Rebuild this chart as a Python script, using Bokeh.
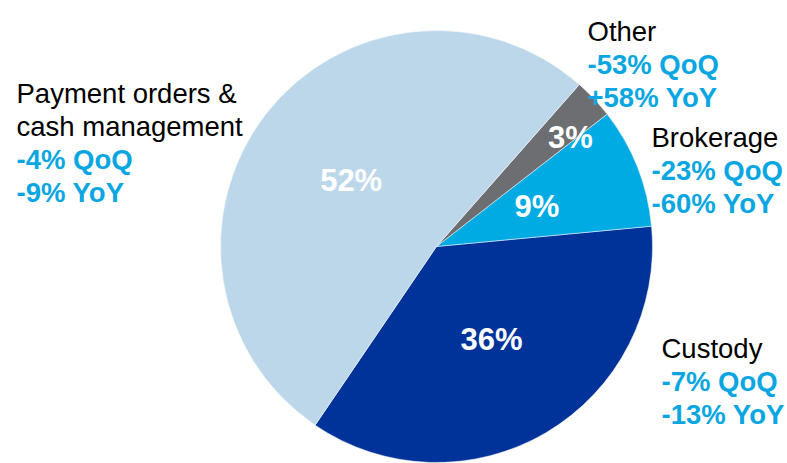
import numpy as np
from bokeh.plotting import figure
from bokeh.models import Range1d
from bokeh.core.properties import value
from bokeh.embed import file_html
from bokeh.resources import INLINE

# ---- data ----
categories = ["Custody", "Brokerage", "Other", "Payment orders &\ncash management"]
shares = [36, 9, 3, 52]
qoq = ["-7% QoQ", "-23% QoQ", "-53% QoQ", "-4% QoQ"]
yoy = ["-13% YoY", "-60% YoY", "+58% YoY", "-9% YoY"]

# ---- styles / layout ----
colors = ["#003399", "#00ABE4", "#6D6E71", "#BDD7EA"]
W, H = 787, 463
cx, cy, r = 436, H - 246, 216
start_deg = -124.2
label_rfrac = [0.5, 0.5, 0.8, 0.5]
label_shift_deg = [0, 0, -4, 0]
# outer label anchors (left x, first baseline y from top)
outer_pos = [(661, 348), (651, 137), (587, 31), (16, 93)]
line_h = 33
blue = "#0AA6E1"
font = "Liberation Sans"

p = figure(width=W, height=H, x_range=Range1d(0, W), y_range=Range1d(0, H),
           output_backend="svg", toolbar_location=None, min_border=0)
p.axis.visible = False
p.grid.visible = False
p.outline_line_color = None
p.background_fill_color = "white"

fr = np.array(shares, dtype=float) / sum(shares)
ends = np.radians(start_deg) + np.cumsum(fr) * 2 * np.pi
starts = np.concatenate([[np.radians(start_deg)], ends[:-1]])

p.wedge(x=cx, y=cy, radius=r, start_angle=starts, end_angle=ends,
        fill_color=colors, line_color="white", line_width=0.5)

mids = (starts + ends) / 2 + np.radians(label_shift_deg)
lx = cx + np.array(label_rfrac) * r * np.cos(mids)
ly = cy + np.array(label_rfrac) * r * np.sin(mids)
p.text(x=lx, y=ly, text=[f"{s}%" for s in shares], text_color="white",
       text_font=value(font), text_font_style="bold", text_font_size="31px",
       text_align="center", text_baseline="middle")

for cat, q, yy, (x0, y0) in zip(categories, qoq, yoy, outer_pos):
    name_lines = cat.split("\n")
    n = len(name_lines)
    xs = [x0] * n
    ys = [H - (y0 + i * line_h) for i in range(n)]
    p.text(x=xs, y=ys, text=name_lines, text_color="black",
           text_font=value(font), text_font_size="27.5px",
           text_align="left", text_baseline="alphabetic")
    ys2 = [H - (y0 + (n + i) * line_h) for i in range(2)]
    p.text(x=[x0, x0], y=ys2, text=[q, yy], text_color=blue,
           text_font=value(font), text_font_style="bold", text_font_size="27.5px",
           text_align="left", text_baseline="alphabetic")

open("out.html", "w").write(file_html(p, INLINE))
